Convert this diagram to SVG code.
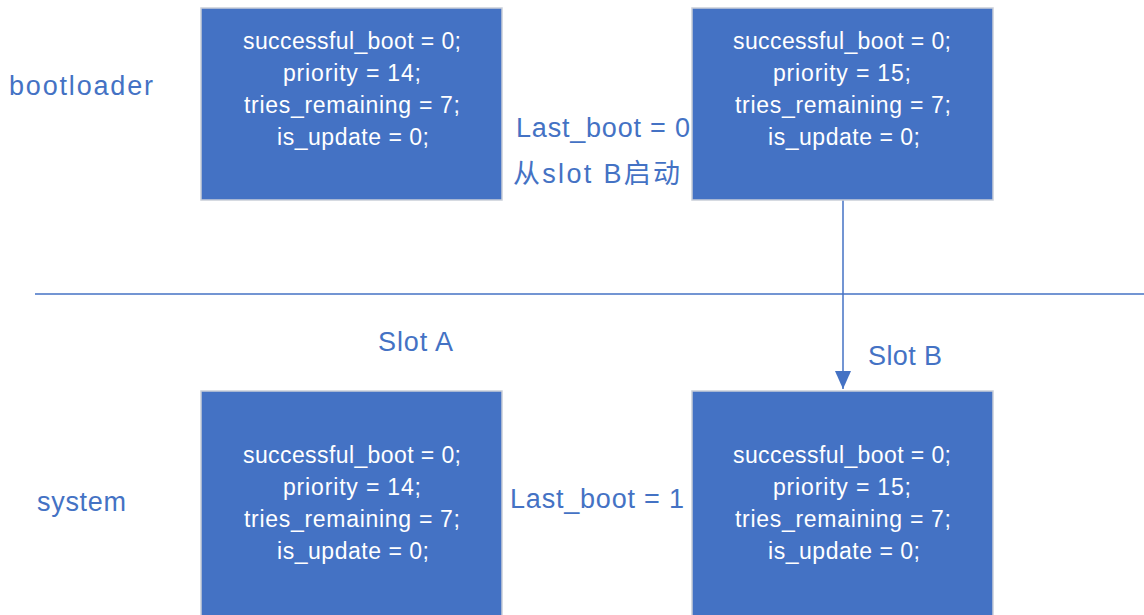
<svg xmlns="http://www.w3.org/2000/svg" width="1144" height="615" viewBox="0 0 1144 615">
<style>
.box{fill:#4472C4;stroke:#C9CED8;stroke-width:1.5}
.bt{font-family:"Liberation Sans",Arial,sans-serif;font-size:23px;fill:#FFFFFF;text-anchor:middle}
.lb{font-family:"Liberation Sans","Noto Sans CJK SC",sans-serif;font-size:27px;fill:#4472C4}
.ln{stroke:#4472C4;stroke-width:1.5;fill:none}
</style>
<defs>
<marker id="arrow" viewBox="0 0 18 18" refX="18" refY="9" markerWidth="18" markerHeight="18" orient="auto" markerUnits="userSpaceOnUse">
<path d="M0,1 L18,9 L0,17 Z" fill="#4472C4"/>
</marker>
</defs>
<rect width="1144" height="615" fill="#FFFFFF"/>
<g id="connectors">
<line class="ln" x1="35" y1="294" x2="1144" y2="294"/>
<line class="ln" x1="843" y1="200" x2="843" y2="389" marker-end="url(#arrow)"/>
</g>
<g id="boot-a">
<rect class="box" x="201" y="8" width="301" height="192"/>
<text class="bt" x="352" y="49" textLength="218" lengthAdjust="spacing">successful_boot = 0;</text>
<text class="bt" x="352" y="81" textLength="138" lengthAdjust="spacing">priority = 14;</text>
<text class="bt" x="352" y="113" textLength="216" lengthAdjust="spacing">tries_remaining = 7;</text>
<text class="bt" x="353" y="145" textLength="152" lengthAdjust="spacing">is_update = 0;</text>
</g>
<g id="boot-b">
<rect class="box" x="692" y="8" width="301" height="192"/>
<text class="bt" x="842" y="49" textLength="218" lengthAdjust="spacing">successful_boot = 0;</text>
<text class="bt" x="842" y="81" textLength="138" lengthAdjust="spacing">priority = 15;</text>
<text class="bt" x="843" y="113" textLength="216" lengthAdjust="spacing">tries_remaining = 7;</text>
<text class="bt" x="844" y="145" textLength="152" lengthAdjust="spacing">is_update = 0;</text>
</g>
<g id="sys-a">
<rect class="box" x="201" y="391" width="301" height="230"/>
<text class="bt" x="352" y="463" textLength="218" lengthAdjust="spacing">successful_boot = 0;</text>
<text class="bt" x="352" y="495" textLength="138" lengthAdjust="spacing">priority = 14;</text>
<text class="bt" x="352" y="527" textLength="216" lengthAdjust="spacing">tries_remaining = 7;</text>
<text class="bt" x="353" y="559" textLength="152" lengthAdjust="spacing">is_update = 0;</text>
</g>
<g id="sys-b">
<rect class="box" x="692" y="391" width="301" height="230"/>
<text class="bt" x="842" y="463" textLength="218" lengthAdjust="spacing">successful_boot = 0;</text>
<text class="bt" x="842" y="495" textLength="138" lengthAdjust="spacing">priority = 15;</text>
<text class="bt" x="843" y="527" textLength="216" lengthAdjust="spacing">tries_remaining = 7;</text>
<text class="bt" x="844" y="559" textLength="152" lengthAdjust="spacing">is_update = 0;</text>
</g>
<g id="labels">
<text class="lb" x="9" y="95" textLength="144" lengthAdjust="spacing">bootloader</text>
<text class="lb" x="37" y="511" textLength="89" lengthAdjust="spacing">system</text>
<text class="lb" x="378" y="351" textLength="75" lengthAdjust="spacing">Slot A</text>
<text class="lb" x="868" y="365" textLength="74" lengthAdjust="spacing">Slot B</text>
<text class="lb" x="516" y="137" textLength="174" lengthAdjust="spacing">Last_boot = 0</text>
<text class="lb" x="513" y="183" textLength="167" lengthAdjust="spacing">从slot B启动</text>
<text class="lb" x="510" y="508" textLength="174" lengthAdjust="spacing">Last_boot = 1</text>
</g>
</svg>
